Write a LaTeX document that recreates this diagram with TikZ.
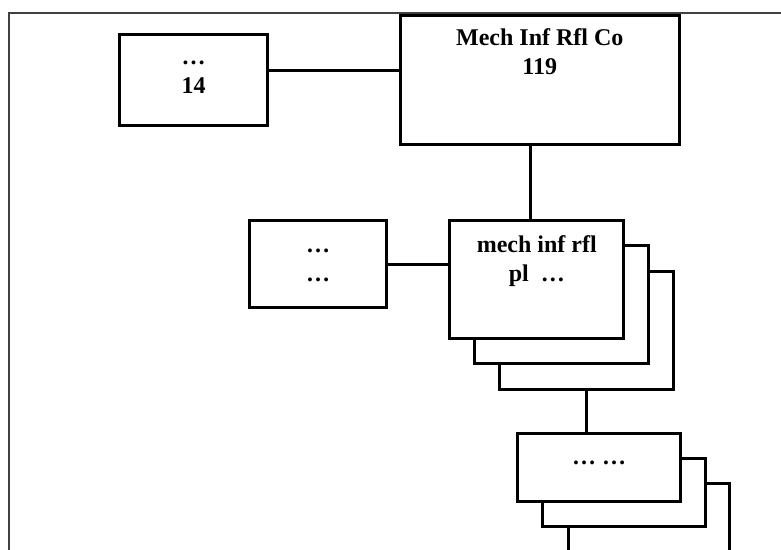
\documentclass[tikz,border=0pt]{standalone}
\usepackage{fontspec}
\setmainfont{Liberation Serif}
\usetikzlibrary{calc}
\tikzset{
  box/.style={draw=black, line width=3pt, fill=white, rectangle, inner sep=0pt, outer sep=0pt},
  conn/.style={draw=black, line width=3pt},
  frameline/.style={draw=black!75, line width=2.4pt},
  lbl/.style={inner sep=0pt, outer sep=0pt, anchor=base, font=\bfseries\fontsize{24}{29.5}\selectfont}
}
\newcommand{\twol}[2]{\begin{tabular}[t]{@{}c@{}}#1\\#2\end{tabular}}
\begin{document}
\begin{tikzpicture}[x=1pt,y=-1pt]
\useasboundingbox (0,0) rectangle (781,549);
\clip (0,0) rectangle (781,549);
% outer frame
\draw[frameline] (8.8,570) -- (8.8,12.8) -- (800,12.8);
% boxes (positions)
\path
  node[box, minimum width=148pt, minimum height=91.5pt] (A) at (193.5,79.75) {}
  node[box, minimum width=278.5pt, minimum height=129.2pt] (B) at (539.75,80.1) {}
  node[box, minimum width=136.6pt, minimum height=86.8pt] (C) at (318,264.1) {};
% connectors
\coordinate (ab) at (0,70);
\coordinate (bx) at (530.5,0);
\draw[conn] (A.east |- ab) -- (B.west |- ab);
% stacked group D
\node[box, minimum width=174pt, minimum height=118pt] (D3) at (586.25,330) {};
\node[box, minimum width=174pt, minimum height=118pt] (D2) at (561.2,304.8) {};
\node[box, minimum width=174.1pt, minimum height=117.6pt] (D) at (536.75,279.5) {};
% stacked group E
\node[box, minimum width=161.5pt, minimum height=68.3pt] (E3) at (649,517.35) {};
\node[box, minimum width=162.7pt, minimum height=68pt] (E2) at (624.15,492.2) {};
\node[box, minimum width=163pt, minimum height=68.3pt] (E) at (599,467.35) {};
% connectors between groups
\draw[conn] (B.south -| bx) -- (D.north -| bx);
\draw[conn] (C.east) -- (D.west |- C.east);
\draw[conn] (D3.south) -- (E.north -| D3.south);
% redraw boxes over connector ends
\node[box, minimum width=148pt, minimum height=91.5pt] at (A) {};
\node[box, minimum width=278.5pt, minimum height=129.2pt] at (B) {};
\node[box, minimum width=136.6pt, minimum height=86.8pt] at (C) {};
% labels
\node[lbl] (Atxt) at (193.5,64) {\twol{…}{14}};
\node[lbl] (Btxt) at (539.75,45) {\twol{Mech Inf Rfl Co}{119}};
\node[lbl] (Ctxt) at (318,252.3) {\twol{…}{…}};
\node[lbl] (Dtxt) at (536.75,252.3) {\twol{mech inf rfl}{pl~~…}};
\node[lbl] (Etxt) at (599,464.5) {… …};
\end{tikzpicture}
\end{document}
